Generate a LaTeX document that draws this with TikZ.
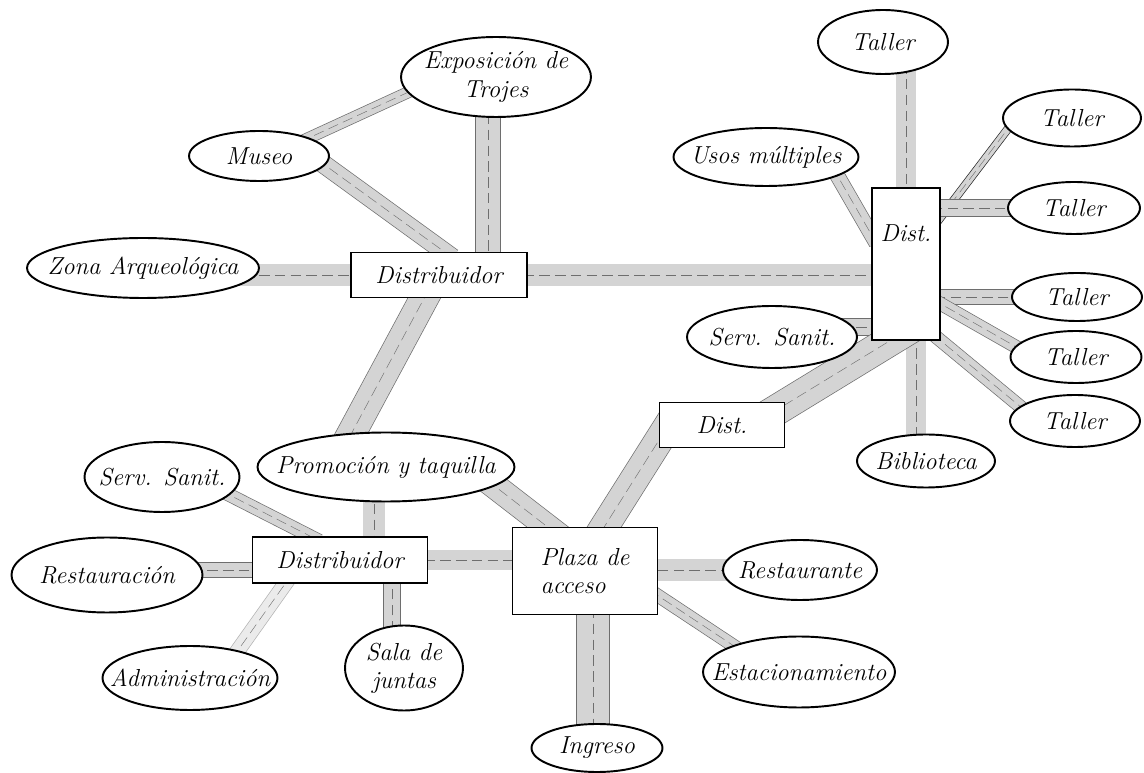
\documentclass[tikz,border=0pt]{standalone}
\usepackage{tikz}
\usetikzlibrary{shapes.geometric,backgrounds}
\definecolor{bandgray}{HTML}{D4D4D4}
\definecolor{bandline}{HTML}{6E6E6E}

\begin{document}
\begin{tikzpicture}[
  x=0.02cm,y=-0.02cm,
  font=\fontsize{14}{16}\selectfont\itshape,
  oval/.style={ellipse,draw,line width=1.1pt,fill=white,inner xsep=-4em,inner ysep=-1.5em,align=center},
  room/.style={rectangle,draw,line width=1.1pt,fill=white,inner sep=0pt,align=center},
  band/.style={draw=bandline,line width=0.4pt,double=bandgray,double distance=#1,shorten <=-6pt,shorten >=-6pt,
    postaction={draw=bandline,line width=0.25pt,dash pattern=on 6pt off 3pt}},
  band/.default=10pt
]
\useasboundingbox (0,0) rectangle (1144,773);
\node[oval,minimum width=2.6cm,minimum height=1.28cm] (tallerA) at (883,42) {Taller};
\node[oval,minimum width=3.8cm,minimum height=1.6cm] (expo) at (496,77) {Exposición de\\Trojes};
\node[oval,minimum width=2.8cm,minimum height=1cm] (museo) at (259,156) {Museo};
\node[oval,minimum width=3.7cm,minimum height=1.16cm] (usos) at (766,157) {Usos múltiples};
\node[oval,minimum width=2.76cm,minimum height=1.14cm] (tallerB) at (1072,118) {Taller};
\node[oval,minimum width=2.64cm,minimum height=1.04cm] (tallerC) at (1074,208) {Taller};
\node[oval,minimum width=4.64cm,minimum height=1.2cm] (zona) at (143,268) {Zona Arqueológica};
\node[room,minimum width=3.52cm,minimum height=0.9cm] (dtop) at (439,275) {Distribuidor};
\node[room,minimum width=1.36cm,minimum height=3.04cm,text depth=1.25cm] (dright) at (906,264) {Dist.};
\node[oval,minimum width=2.6cm,minimum height=0.96cm] (tallerD) at (1077,297) {Taller};
\node[oval,minimum width=3.4cm,minimum height=1.24cm] (sanitR) at (772,337) {Serv. Sanit.};
\node[oval,minimum width=2.62cm,minimum height=1.04cm] (tallerE) at (1076,357) {Taller};
\node[oval,minimum width=2.6cm,minimum height=1.04cm] (tallerF) at (1075,421) {Taller};
\node[oval,minimum width=2.76cm,minimum height=1.06cm] (biblio) at (926,461) {Biblioteca};
\node[room,minimum width=2.5cm,minimum height=0.9cm] (dmid) at (722,425) {Dist.};
\node[oval,minimum width=5.14cm,minimum height=1.38cm] (promo) at (386,467) {Promoción y taquilla};
\node[oval,minimum width=3.1cm,minimum height=1.4cm] (sanitL) at (162,477) {Serv. Sanit.};
\node[room,minimum width=3.5cm,minimum height=0.92cm] (dbot) at (340,560) {Distribuidor};
\node[room,minimum width=2.9cm,minimum height=1.74cm,align=left] (plaza) at (585,571) {Plaza de\\acceso};
\node[oval,minimum width=3.82cm,minimum height=1.5cm] (restau) at (107,575) {Restauración};
\node[oval,minimum width=3.08cm,minimum height=1.2cm] (resta) at (800,570) {Restaurante};
\node[oval,minimum width=2.36cm,minimum height=1.7cm] (sala) at (404,668) {Sala de\\juntas};
\node[oval,minimum width=3.5cm,minimum height=1.28cm] (admin) at (190,678) {Administración};
\node[oval,minimum width=3.84cm,minimum height=1.42cm] (estac) at (799,672) {Estacionamiento};
\node[oval,minimum width=2.62cm,minimum height=0.96cm] (ingreso) at (597,748) {Ingreso};
\begin{scope}[on background layer]
\fill[white] (0,0) rectangle (1144,773);
\draw[band=14pt] ([xshift=-0.16cm]expo.center) -- ([xshift=-0.16cm]expo.center |- dtop.center);
\draw[band=6pt] (museo.20) -- (expo.190);
\draw[band=10pt] (museo.-8) -- ([xshift=0.1cm]dtop.north);
\draw[band=12pt] (zona.center |- dtop.center) -- (dtop.center);
\draw[band=12pt] (dtop.center) -- (dtop.center -| dright.center);
\draw[band=16pt] ([xshift=-0.3cm]dtop.south) -- (promo.135);
\draw[band=11pt] (dright.center |- tallerA.center) -- (dright.center);
\draw[band=8pt] (usos.-15) -- ([yshift=0.6cm]dright.west);
\draw[band=4pt,draw=black!85] (tallerB.190) -- ([yshift=0.94cm]dright.east);
\draw[band=9pt] (tallerC.center) -- (tallerC.center -| dright.center);
\draw[band=8pt] (tallerD.center) -- (tallerD.center -| dright.center);
\draw[band=9pt] ([yshift=0.2cm]sanitR.center) -- ([yshift=0.2cm]sanitR.center -| dright.center);
\draw[band=7pt] ([yshift=-0.8cm]dright.east) -- (tallerE.170);
\draw[band=7pt] (dright.south east) -- (tallerF.165);
\draw[band=11pt] ([xshift=0.2cm]dright.center) -- ([xshift=0.2cm]dright.center |- biblio.center);
\draw[band=17pt] ([xshift=0.6cm]dmid.center) -- ([yshift=0.2cm]dright.south);
\draw[band=16pt] ([xshift=0.2cm]dmid.west) -- ([xshift=0.2cm,yshift=-0.3cm]plaza.north);
\draw[band=14pt] (promo.-10) -- ([xshift=-0.5cm,yshift=-0.2cm]plaza.north);
\draw[band=12pt] ([xshift=-0.24cm]promo.center) -- ([xshift=-0.24cm]promo.center |- dbot.center);
\draw[band=7pt] (sanitL.-15) -- ([xshift=-0.6cm]dbot.north);
\draw[band=8pt] ([yshift=0.1cm]restau.center) -- ([yshift=0.1cm]restau.center -| dbot.center);
\draw[band=11pt] (dbot.center) -- (dbot.center -| plaza.center);
\draw[band=8pt,draw=black!30,double=black!8] (admin.30) -- ([xshift=-1.1cm]dbot.south);
\draw[band=9pt] ([xshift=-0.24cm]sala.center) -- ([xshift=-0.24cm]sala.center |- dbot.center);
\draw[band=12pt] (resta.center) -- (resta.center -| plaza.center);
\draw[band=7pt] ([yshift=-0.5cm]plaza.east) -- (estac.158);
\draw[band=18pt] ([xshift=0.16cm]plaza.center) -- ([xshift=0.16cm]plaza.center |- ingreso.center);
\end{scope}
\end{tikzpicture}
\end{document}
